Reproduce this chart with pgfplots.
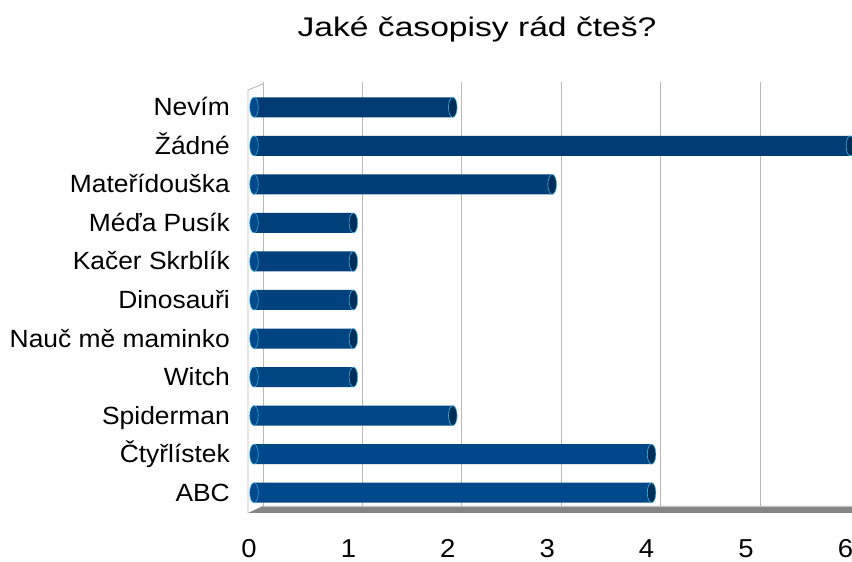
\documentclass[border=0pt]{standalone}
\usepackage{pgfplots}
\pgfplotsset{compat=1.18}
\usepackage{pgfplotstable}
\usepackage{fontspec}
\setmainfont{Liberation Sans}[FakeStretch=1.06]
\newfontfamily\titlefont{Liberation Sans}[FakeStretch=1.25]

\definecolor{barMain}{HTML}{004A8C}
\definecolor{barTop}{HTML}{003B72}
\definecolor{barCap}{HTML}{002E5A}
\definecolor{barEdge}{HTML}{3FB8E0}
\definecolor{wallLine}{HTML}{B8B8B8}
\definecolor{floorGray}{HTML}{858585}

% y = poradi odspodu, x = pocet odpovedi
\pgfplotstableread{
y x
0 4
1 4
2 2
3 1
4 1
5 1
6 1
7 1
8 3
9 6
10 2
}\casopisy

\begin{document}
\begin{tikzpicture}[x=1bp,y=1bp]
\begin{axis}[
  at={(0,0)}, anchor=south west,
  scale only axis,
  width=596.4bp, height=424bp,
  xmin=0, xmax=6, ymin=-0.5, ymax=10.5,
  clip=false,
  axis line style={draw=none},
  tick style={draw=none},
  xtick={0,...,6},
  ytick={0,...,10},
  yticklabels={ABC, Čtyřlístek, Spiderman, Witch, Nauč mě maminko, Dinosauři,
    Kačer Skrblík, Méďa Pusík, Mateřídouška, Žádné, Nevím},
  xmajorgrids,
  major x grid style={draw=wallLine, line width=0.9bp, xshift=9bp, yshift=6bp},
  /pgf/number format/assume math mode=true,
  ticklabel style={font=\fontsize{25}{29}\selectfont, inner sep=0pt},
  yticklabel style={anchor=base east, xshift=-24bp, yshift=-8.5bp},
  xticklabel style={anchor=base, yshift=-46bp, xshift=-5bp, font=\fontsize{26}{30}\selectfont},
  title={\titlefont\fontsize{27}{31}\selectfont Jaké časopisy rád čteš?},
  title style={at={(axis description cs:0.374,1.108)}, anchor=base, inner sep=0pt},
]
% levá stěna
\draw[wallLine, line width=0.9bp]
  ([xshift=-6bp,yshift=-1bp]axis cs:0,-0.5) -- ([xshift=-6bp,yshift=-2bp]axis cs:0,10.5)
  -- ([xshift=9bp,yshift=4bp]axis cs:0,10.5);
% podlaha
\fill[floorGray]
  ([xshift=-6bp,yshift=-1bp]axis cs:0,-0.5) -- ([xshift=10bp,yshift=-1bp]axis cs:6,-0.5)
  -- ([xshift=10bp,yshift=6bp]axis cs:6,-0.5) -- ([xshift=9bp,yshift=6bp]axis cs:0,-0.5) -- cycle;
\draw[gray!45, line width=0.8bp]
  ([xshift=9bp,yshift=6bp]axis cs:0,-0.5) -- ([xshift=10bp,yshift=6bp]axis cs:6,-0.5);

% levé konce válců
\addplot[only marks, mark=*, mark size=10bp,
  mark options={xscale=0.43, fill=barMain, draw=barEdge, line width=0.5bp}]
  table[x expr=0, y=y] {\casopisy};
% válce
\addplot[xbar, bar width=20bp, draw=none,
  top color=barTop, bottom color=barMain, shading angle=0]
  table[x=x, y=y] {\casopisy};
% pravé konce válců
\addplot[only marks, mark=*, mark size=10bp,
  mark options={xscale=0.43, fill=barCap, draw=barEdge, line width=0.6bp}]
  table[x=x, y=y] {\casopisy};
\end{axis}
\pgfresetboundingbox
\path (-254,-50) rectangle (598,512);
\end{tikzpicture}
\end{document}
